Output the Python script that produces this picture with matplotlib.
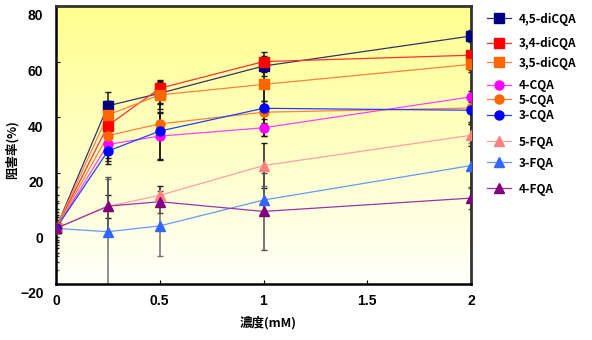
import numpy as np
import matplotlib
matplotlib.use("Agg")
import matplotlib.pyplot as plt
import matplotlib.transforms as mtransforms
from matplotlib.lines import Line2D
from matplotlib.colors import LinearSegmentedColormap

plt.rcParams["font.family"] = ["Noto Sans CJK JP", "DejaVu Sans"]
plt.rcParams["axes.unicode_minus"] = False

# 濃度 (mM)
conc = [0, 0.25, 0.5, 1, 2]

names = ["4,5-diCQA", "3,4-diCQA", "3,5-diCQA", "4-CQA", "5-CQA", "3-CQA",
         "5-FQA", "3-FQA", "4-FQA"]

# 阻害率 (%)
v_45dicqa = [0.0, 44.1, 48.6, 58.4, 69.2]
v_34dicqa = [0.0, 37.0, 50.4, 60.0, 62.3]
v_35dicqa = [0.0, 40.8, 48.0, 51.8, 59.0]
v_4cqa = [0.0, 30.2, 33.2, 36.2, 47.3]
v_5cqa = [0.0, 33.4, 37.6, 41.8, 43.3]
v_3cqa = [0.0, 27.8, 35.0, 43.2, 42.5]
v_5fqa = [0.0, 7.9, 11.9, 22.6, 33.5]
v_3fqa = [0.0, -1.2, 0.9, 10.2, 22.6]
v_4fqa = [0.0, 8.0, 9.6, 6.1, 10.9]

# 標準偏差
e_45dicqa = [5, 5, 4, 3.6, 2]
e_34dicqa = [4, 9, 3, 3.6, 6]
e_35dicqa = [6, 5, 5, 6, 2]
e_4cqa = [9, 5, 8.6, 3, 2]
e_5cqa = [3, 9, 4, 4, 5]
e_3cqa = [12, 4.6, 10, 10, 5]
e_5fqa = [7, 4, 3.4, 8, 4]
e_3fqa = [15, 19, 11, 5, 8]
e_4fqa = [10, 10.6, 4, 14, 4]

values = [v_45dicqa, v_34dicqa, v_35dicqa, v_4cqa, v_5cqa, v_3cqa,
          v_5fqa, v_3fqa, v_4fqa]
errors = [e_45dicqa, e_34dicqa, e_35dicqa, e_4cqa, e_5cqa, e_3cqa,
          e_5fqa, e_3fqa, e_4fqa]

styles = [
    ("#000080", "#333366", "s"),
    ("#FF0000", "#FF3030", "s"),
    ("#FF6600", "#FF8040", "s"),
    ("#FF00FF", "#FF40FF", "o"),
    ("#FF6600", "#FF8040", "o"),
    ("#0000FF", "#2040FF", "o"),
    ("#FF8080", "#FFA0A0", "^"),
    ("#3366FF", "#6699FF", "^"),
    ("#800080", "#9933AA", "^"),
]
err_colors = ["#1A1A1A"] * 7 + ["#707070", "#505050"]

# 凡例の縦位置 (px, 上から)
legend_y = [19, 44, 63, 86, 100, 116, 142, 163, 189]

W, H = 592, 340
fig = plt.figure(figsize=(W / 100, H / 100), dpi=100)
ax = fig.add_axes([56 / W, 1 - 284 / H, 415 / W, 278 / H])

# 背景グラデーション
cmap = LinearSegmentedColormap.from_list("bg", ["#FFFFFB", "#FFFF8E"])
grad = np.linspace(0, 1, 256).reshape(-1, 1)
ax.imshow(grad, extent=[0, 1, 0, 1], transform=ax.transAxes, aspect="auto",
          cmap=cmap, origin="lower", zorder=0)

handles = []
for name, v, e, (mc, lc, mk), ec in zip(names, values, errors, styles, err_colors):
    ax.errorbar(conc, v, yerr=e, fmt="none", ecolor=ec, elinewidth=1.1,
                capsize=2.5, capthick=1.0, zorder=2)
    ax.plot(conc, v, color=lc, lw=0.9, zorder=3)
    ax.plot(conc, v, ls="none", marker=mk, ms=6.5, color=mc, mec=mc, zorder=4)
    handles.append(Line2D([], [], color=lc, lw=0.9, marker=mk, ms=6.5,
                          markerfacecolor=mc, markeredgecolor=mc))

tick_font = {"family": ["Liberation Sans", "DejaVu Sans"], "weight": "bold",
             "size": 10}

ax.set_xlim(0, 2)
ax.set_ylim(-20, 80)
ax.set_xticks([0, 0.5, 1, 1.5, 2])
ax.set_xticklabels(["0", "0.5", "1", "1.5", "2"], fontdict=tick_font)
ax.set_yticks([-20, 0, 20, 40, 60, 80])
ax.set_yticklabels(["−20", "0", "20", "40", "60", "80"], fontdict=tick_font)
ax.tick_params(direction="in", length=3, width=0.8, pad=9)
ax.tick_params(axis="x", pad=7)
# 元の図ではY目盛ラベルが少し下にずれている
offset = mtransforms.ScaledTranslation(0, -9 / 100, fig.dpi_scale_trans)
for lab in ax.get_yticklabels():
    lab.set_transform(lab.get_transform() + offset)

for side in ["left", "bottom"]:
    ax.spines[side].set_linewidth(1.8)
    ax.spines[side].set_color("black")
for side in ["top", "right"]:
    ax.spines[side].set_linewidth(2.0)
    ax.spines[side].set_color("#333333")

fig.text(268 / W, 1 - 323 / H, "濃度(mM)", ha="center", va="center",
         fontsize=9, fontweight="bold")
fig.text(12 / W, 1 - 150 / H, "阻害率(%)", ha="center", va="center",
         rotation=90, fontsize=9, fontweight="bold")

for h, name, y in zip(handles, names, legend_y):
    fig.legend([h], [name], loc="center left",
               bbox_to_anchor=(487 / W, 1 - y / H), frameon=False,
               prop={"weight": "bold", "size": 8.5},
               handlelength=2.0, handletextpad=0.7, borderpad=0,
               borderaxespad=0)

fig.savefig("out.png", dpi=100)
